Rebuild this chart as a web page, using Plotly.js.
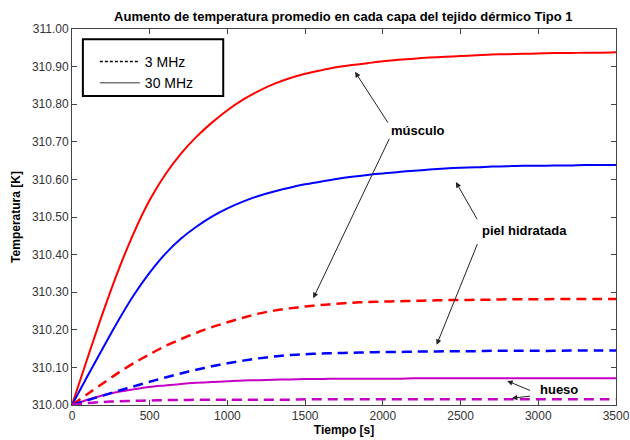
<!DOCTYPE html>
<html>
<head>
<meta charset="utf-8">
<script src="https://cdn.plot.ly/plotly-3.0.1.min.js"></script>
<style>html,body{margin:0;padding:0;background:#fff;}#chart{width:630px;height:440px;}</style>
</head>
<body>
<div id="chart"></div>
<script>
// Time [s], one reading every 100 s
const time = [0, 100, 200, 300, 400, 500, 600, 700, 800, 900, 1000, 1100, 1200, 1300, 1400, 1500, 1600, 1700,
  1800, 1900, 2000, 2100, 2200, 2300, 2400, 2500, 2600, 2700, 2800, 2900, 3000, 3100, 3200, 3300, 3400, 3500];
// Temperatures [K]
const musculo30 = [310.000, 310.125, 310.247, 310.360, 310.460, 310.545, 310.613, 310.668, 310.713, 310.751, 310.784, 310.812,
  310.835, 310.854, 310.869, 310.881, 310.890, 310.898, 310.904, 310.909, 310.914, 310.918, 310.921, 310.924, 310.926, 310.928,
  310.930, 310.932, 310.933, 310.934, 310.935, 310.936, 310.936, 310.937, 310.937, 310.938];
const piel30 = [310.000, 310.077, 310.152, 310.226, 310.294, 310.352, 310.402, 310.442, 310.474, 310.501, 310.523, 310.541,
  310.556, 310.568, 310.578, 310.587, 310.594, 310.601, 310.607, 310.612, 310.616, 310.620, 310.623, 310.626, 310.629, 310.631,
  310.632, 310.634, 310.635, 310.636, 310.636, 310.637, 310.637, 310.638, 310.638, 310.638];
const hueso30 = [310.000, 310.014, 310.026, 310.035, 310.042, 310.048, 310.052, 310.056, 310.059, 310.061, 310.063, 310.065,
  310.066, 310.067, 310.068, 310.069, 310.069, 310.070, 310.070, 310.070, 310.070, 310.070, 310.071, 310.071, 310.071, 310.071,
  310.071, 310.071, 310.071, 310.071, 310.071, 310.071, 310.071, 310.071, 310.071, 310.071];
const musculo3 = [310.000, 310.029, 310.058, 310.086, 310.112, 310.135, 310.157, 310.175, 310.192, 310.207, 310.220, 310.232,
  310.243, 310.251, 310.257, 310.262, 310.266, 310.269, 310.272, 310.274, 310.275, 310.276, 310.277, 310.278, 310.279, 310.279,
  310.280, 310.280, 310.281, 310.281, 310.281, 310.282, 310.282, 310.282, 310.282, 310.282];
const piel3 = [310.000, 310.013, 310.025, 310.038, 310.050, 310.062, 310.073, 310.084, 310.094, 310.103, 310.111, 310.118,
  310.124, 310.129, 310.133, 310.135, 310.137, 310.138, 310.139, 310.140, 310.141, 310.141, 310.142, 310.142, 310.143, 310.143,
  310.143, 310.144, 310.144, 310.144, 310.144, 310.144, 310.145, 310.145, 310.145, 310.145];
const hueso3 = [310.000, 310.005, 310.008, 310.010, 310.011, 310.012, 310.013, 310.013, 310.014, 310.014, 310.014, 310.014,
  310.014, 310.014, 310.014, 310.015, 310.015, 310.015, 310.015, 310.015, 310.015, 310.015, 310.015, 310.015, 310.015, 310.015,
  310.015, 310.015, 310.015, 310.015, 310.015, 310.015, 310.015, 310.015, 310.015, 310.015];
const xTicks = [0, 500, 1000, 1500, 2000, 2500, 3000, 3500];
const yTicks = [310.00, 310.10, 310.20, 310.30, 310.40, 310.50, 310.60, 310.70, 310.80, 310.90, 311.00];
const legendNames = ['3 MHz', '30 MHz'];

const RED = '#ff0000', BLUE = '#0000ff', MAG = '#c400c4';
const dashPat = '10px,6px';
function tr(y, color, dashed) {
  return {x: time, y: y, type: 'scatter', mode: 'lines', showlegend: false, hoverinfo: 'skip',
    line: {color: color, width: dashed ? 2.5 : 2, dash: dashed ? dashPat : 'solid', shape: 'spline', smoothing: 0.8}};
}
const data = [
  tr(musculo30, RED, false), tr(piel30, BLUE, false), tr(hueso30, MAG, false),
  tr(musculo3, RED, true), tr(piel3, BLUE, true), tr(hueso3, MAG, true),
  {x: [null], y: [null], type: 'scatter', mode: 'lines', name: legendNames[0], line: {color: '#000', width: 1.5, dash: '3px,2px'}},
  {x: [null], y: [null], type: 'scatter', mode: 'lines', name: legendNames[1], line: {color: '#777', width: 1.5}}
];

const lblFont = {family: 'Liberation Sans Narrow, Arial Narrow, Liberation Sans, Arial', size: 13, color: '#000', weight: 'bold'};
function arrow(hx, hy, tx, ty) {
  return {x: hx, y: hy, ax: tx, ay: ty, axref: 'x', ayref: 'y', xref: 'x', yref: 'y', text: '', showarrow: true,
    arrowhead: 2, arrowsize: 1.1, arrowwidth: 1, arrowcolor: '#222', standoff: 0, startstandoff: 0};
}
const layout = {
  width: 630, height: 440,
  margin: {l: 72, r: 14, t: 29, b: 35},
  paper_bgcolor: '#fff', plot_bgcolor: '#fff',
  title: {text: '<b>Aumento de temperatura promedio en cada capa del tejido dérmico Tipo 1</b>',
    font: {family: 'Liberation Sans Narrow, Arial Narrow, Liberation Sans, Arial', size: 13, color: '#000'},
    x: 0.545, xanchor: 'center', y: 0.962, yanchor: 'middle'},
  xaxis: {range: [0, 3500], tickvals: xTicks, ticktext: xTicks.map(String), ticks: 'inside', ticklen: 5, tickcolor: '#444',
    showline: true, linecolor: '#444', linewidth: 1, mirror: 'ticks', showgrid: false, zeroline: false,
    tickfont: {family: 'Liberation Sans, Arial', size: 12, color: '#333'},
    title: {text: '<b>Tiempo [s]</b>', font: {family: 'Liberation Sans, Arial', size: 12, color: '#000'}, standoff: 3}},
  yaxis: {range: [310, 311], tickvals: yTicks, ticktext: yTicks.map(v => v.toFixed(2)), ticks: 'inside', ticklen: 5, tickcolor: '#444',
    showline: true, linecolor: '#444', linewidth: 1, mirror: 'ticks', showgrid: false, zeroline: false,
    tickfont: {family: 'Liberation Sans, Arial', size: 12, color: '#333'},
    title: {text: '<b>Temperatura [K]</b>', font: {family: 'Liberation Sans, Arial', size: 12, color: '#000'}, standoff: 8}},
  showlegend: true,
  legend: {x: 0.042, y: 0.955, xanchor: 'left', yanchor: 'top', bgcolor: 'rgba(0,0,0,0)', borderwidth: 0,
    font: {family: 'Liberation Sans, Arial', size: 14, color: '#000'}, itemwidth: 40, tracegroupgap: 0},
  shapes: [{type: 'rect', xref: 'paper', yref: 'paper', x0: 0.02, x1: 0.278, y0: 0.822, y1: 0.973,
    line: {color: '#000', width: 2}, fillcolor: 'rgba(0,0,0,0)'}],
  annotations: [
    {x: 2040, y: 310.73, xref: 'x', yref: 'y', text: 'músculo', showarrow: false, xanchor: 'left', yanchor: 'middle', font: lblFont},
    arrow(1821, 310.886, 2039, 310.747),
    arrow(1552, 310.284, 2046, 310.712),
    {x: 2625, y: 310.465, xref: 'x', yref: 'y', text: 'piel hidratada', showarrow: false, xanchor: 'left', yanchor: 'middle', font: lblFont},
    arrow(2470, 310.593, 2612, 310.490),
    arrow(2346, 310.160, 2612, 310.432),
    {x: 2995, y: 310.041, xref: 'x', yref: 'y', text: 'hueso', showarrow: false, xanchor: 'left', yanchor: 'middle', font: lblFont},
    arrow(2800, 310.064, 2957, 310.037),
    arrow(2830, 310.018, 2957, 310.024)
  ]
};
Plotly.newPlot('chart', data, layout, {displayModeBar: false, staticPlot: true});
</script>
</body>
</html>
